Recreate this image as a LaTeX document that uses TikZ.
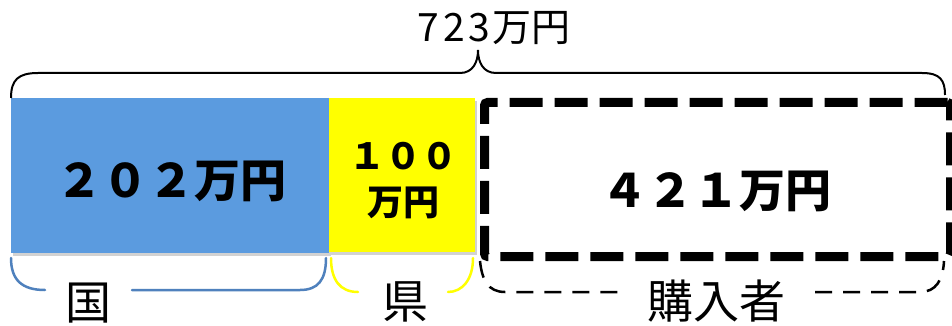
\documentclass[tikz,border=0pt]{standalone}
\usepackage{fontspec}
\setmainfont{Noto Sans CJK JP}
\usetikzlibrary{shadows}
\definecolor{boxblue}{HTML}{5B9BDF}
\definecolor{braceblue}{HTML}{4F81BD}
\definecolor{boxyellow}{HTML}{FFFF00}
\begin{document}
\begin{tikzpicture}[x=1pt,y=-1pt,
  block/.style={inner sep=0pt, anchor=north west,
    drop shadow={opacity=0.35, shadow xshift=1.5pt, shadow yshift=-2.5pt}},
  bigtxt/.style={inner sep=0pt, font=\fontsize{46}{50}\selectfont\bfseries},
  midtxt/.style={inner sep=0pt, font=\fontsize{36}{40}\selectfont\bfseries},
  labtxt/.style={inner sep=0pt, font=\fontsize{46}{50}\selectfont},
  toptxt/.style={inner sep=0pt, font=\fontsize{39}{42}\selectfont},
  bracket/.style={line width=2.5pt, line cap=round}
]
\useasboundingbox (0,0) rectangle (952,326);
\fill[white] (0,0) rectangle (952,326);

% blocks
\node[block, fill=boxblue, minimum width=318pt, minimum height=155pt] (kuni) at (11,98) {};
\node[block, fill=boxyellow, minimum width=146pt, minimum height=154pt] (ken) at (329,98) {};
\node[draw=black, line width=9pt, dash pattern=on 33pt off 12pt, rounded corners=3pt,
      inner sep=0pt, minimum width=466pt, minimum height=154pt, anchor=north west] (kou) at (480,98) {};

% texts in blocks
\node[bigtxt] (t202) at (171,181) {２０２万円};
\node[midtxt] (t100) at (403,156) {１００};
\node[midtxt] (t100b) at (403,203) {万円};
\node[bigtxt] (t421) at (716,191) {４２１万円};

% top brace and total
\node[toptxt] (total) at (494,28) {7\hspace{4pt}2\hspace{4pt}3\hspace{2pt}万円};
\coordinate (tip) at (478,50);
\draw[line width=2pt] (kuni.north west) .. controls (11,80) and (18,73) .. (38,73)
  -- (460,73) .. controls (473,73) and (478,62) .. (tip)
  .. controls (478,62) and (483,73) .. (496,73)
  -- (922,73) .. controls (940,73) and (945,80) .. (945,95);

% bottom labels
\node[labtxt] (lkuni) at (88,303) {国};
\node[labtxt] (lken) at (405,302) {県};
\node[labtxt] (lkou) at (716,301) {購入者};

% bottom brackets
\draw[bracket, braceblue] (11,258) .. controls (11,280) and (22,290) .. (45,290);
\draw[bracket, braceblue] (132,290) -- (300,290) .. controls (318,290) and (326,280) .. (326,258);
\draw[bracket, boxyellow] (331,258) .. controls (331,280) and (340,292) .. (358,292);
\draw[bracket, boxyellow] (448,292) .. controls (462,292) and (473,280) .. (473,258);
\draw[bracket, line cap=butt, dash pattern=on 17pt off 11pt] (480,261) .. controls (482,280) and (488,292) .. (505,292) -- (625,292);
\draw[bracket, line cap=butt, dash pattern=on 17pt off 11pt] (815,292) -- (920,292) .. controls (936,292) and (943,280) .. (944,261);
\end{tikzpicture}
\end{document}
